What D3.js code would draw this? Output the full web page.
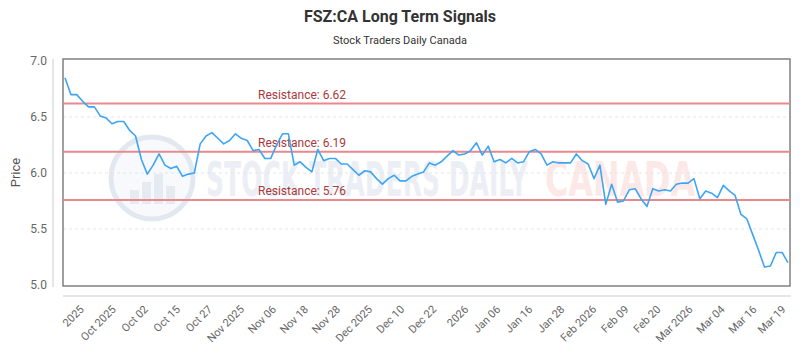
<!DOCTYPE html>
<html>
<head>
<meta charset="utf-8">
<script src="https://cdn.jsdelivr.net/npm/d3@7"></script>
<style>
  body { margin: 0; background: #fff; }
  svg { display: block; }
</style>
</head>
<body>
<svg id="chart" width="800" height="350"></svg>
<script>
// closing prices, one per trading day
const prices = [6.85, 6.70, 6.70, 6.64, 6.59, 6.59, 6.51, 6.49, 6.44, 6.46, 6.46, 6.38, 6.33, 6.12, 5.99, 6.07,
    6.17, 6.07, 6.04, 6.06, 5.97, 5.99, 6.00, 6.26, 6.33, 6.36, 6.31, 6.26, 6.29, 6.35, 6.31, 6.29,
    6.20, 6.21, 6.13, 6.13, 6.25, 6.35, 6.35, 6.07, 6.10, 6.05, 6.01, 6.21, 6.11, 6.13, 6.13, 6.08,
    6.08, 6.03, 5.98, 6.02, 6.01, 5.95, 5.90, 5.95, 5.98, 5.93, 5.93, 5.97, 5.99, 6.01, 6.09, 6.07,
    6.10, 6.15, 6.20, 6.16, 6.17, 6.20, 6.27, 6.16, 6.24, 6.10, 6.12, 6.09, 6.13, 6.09, 6.10, 6.19,
    6.21, 6.17, 6.07, 6.10, 6.09, 6.09, 6.09, 6.17, 6.11, 6.08, 5.95, 6.07, 5.72, 5.90, 5.74, 5.75,
    5.85, 5.86, 5.77, 5.70, 5.86, 5.84, 5.85, 5.84, 5.90, 5.91, 5.91, 5.95, 5.77, 5.84, 5.82, 5.78,
    5.89, 5.84, 5.80, 5.63, 5.59, 5.45, 5.31, 5.16, 5.17, 5.29, 5.29, 5.20];

const resistance = [6.62, 6.19, 5.76];

const tickLabels = ["2025", "Oct 2025", "Oct 02", "Oct 15", "Oct 27", "Nov 2025", "Nov 06", "Nov 18",
    "Nov 28", "Dec 2025", "Dec 10", "Dec 22", "2026", "Jan 06", "Jan 16", "Jan 28", "Feb 2026",
    "Feb 09", "Feb 20", "Mar 2026", "Mar 04", "Mar 16", "Mar 19"];

const yTicks = [5.0, 5.5, 6.0, 6.5, 7.0];

const svg = d3.select('#chart');
const font = "Roboto, 'Open Sans', sans-serif";

const box = { left: 63, top: 59, right: 790, bottom: 286 };

const x = d3.scaleLinear()
    .domain([0, prices.length - 1])
    .range([65, 788]);

const y = d3.scaleLinear()
    .domain([5, 7])
    .range([285, 61]);

// ticks sit every ~5.45 trading days, the last one on the final point
const tickAt = tickLabels.map((d, i) => i === tickLabels.length - 1 ? prices.length - 1 : 3.6 + 5.45 * i);

// title
svg.append('text')
    .attr('x', 400)
    .attr('y', 22)
    .attr('text-anchor', 'middle')
    .attr('font-family', font)
    .attr('font-size', 16)
    .attr('font-weight', 700)
    .attr('fill', '#333')
    .text('FSZ:CA Long Term Signals');

svg.append('text')
    .attr('x', 400)
    .attr('y', 44)
    .attr('text-anchor', 'middle')
    .attr('font-family', font)
    .attr('font-size', 11)
    .attr('fill', '#333')
    .text('Stock Traders Daily Canada');

// watermark
const wm = svg.append('g');
wm.append('circle')
    .attr('cx', 152).attr('cy', 178).attr('r', 41)
    .attr('fill', '#f7f9fc')
    .attr('stroke', '#e3e8f0')
    .attr('stroke-width', 5);
[[-22, 14], [-10, 22], [2, 30], [14, 18]].forEach(([dx, h]) => {
    wm.append('rect')
        .attr('x', 152 + dx).attr('y', 204 - h)
        .attr('width', 9).attr('height', h)
        .attr('fill', '#e6ebf2');
});
wm.append('text')
    .attr('x', 206).attr('y', 196)
    .attr('font-family', "'DejaVu Sans Condensed', 'DejaVu Sans', sans-serif")
    .attr('font-size', 48)
    .attr('font-weight', 700)
    .attr('textLength', 322)
    .attr('lengthAdjust', 'spacingAndGlyphs')
    .attr('fill', '#ebeff5')
    .text('STOCK TRADERS DAILY');
wm.append('text')
    .attr('x', 545).attr('y', 196)
    .attr('font-family', "'DejaVu Sans Condensed', 'DejaVu Sans', sans-serif")
    .attr('font-size', 48)
    .attr('font-weight', 700)
    .attr('textLength', 150)
    .attr('lengthAdjust', 'spacingAndGlyphs')
    .attr('fill', '#fde8e8')
    .text('CANADA');

// dashed grid
svg.append('g')
    .selectAll('line')
    .data(yTicks.slice(1, -1))
    .enter()
    .append('line')
    .attr('x1', box.left).attr('x2', box.right)
    .attr('y1', d => y(d)).attr('y2', d => y(d))
    .attr('stroke', '#e4e4e4')
    .attr('stroke-dasharray', '3,3');

// plot border
svg.append('rect')
    .attr('x', box.left).attr('y', box.top)
    .attr('width', box.right - box.left)
    .attr('height', box.bottom - box.top)
    .attr('fill', 'none')
    .attr('stroke', '#808080')
    .attr('stroke-width', 1.5);

// y axis
const yAxis = svg.append('g')
    .attr('transform', 'translate(53,0)')
    .call(d3.axisLeft(y).tickValues(yTicks).tickSize(0).tickPadding(6).tickFormat(d3.format('.1f')));
yAxis.select('.domain').attr('stroke', '#ccc').attr('d', `M0,${box.top}V${box.bottom + 1}`);
yAxis.selectAll('text')
    .attr('font-family', font)
    .attr('font-size', 12)
    .attr('fill', '#666');

svg.append('text')
    .attr('transform', `translate(20, ${(box.top + box.bottom) / 2}) rotate(-90)`)
    .attr('text-anchor', 'middle')
    .attr('font-family', font)
    .attr('font-size', 13)
    .attr('fill', '#555')
    .text('Price');

// x axis
const xAxis = svg.append('g')
    .attr('transform', 'translate(0,296)')
    .call(d3.axisBottom(x).tickValues(tickAt).tickSize(0).tickFormat((d, i) => tickLabels[i]));
xAxis.select('.domain').attr('stroke', '#ccc').attr('d', `M${box.left},0H${box.right + 1}`);
xAxis.selectAll('text')
    .attr('font-family', font)
    .attr('font-size', 11)
    .attr('fill', '#666')
    .attr('text-anchor', 'end')
    .attr('x', 0)
    .attr('y', 0)
    .attr('dy', 0)
    .attr('transform', 'translate(-2,14) rotate(-45)');

// resistance levels
const res = svg.append('g');
res.selectAll('line')
    .data(resistance)
    .enter()
    .append('line')
    .attr('x1', box.left).attr('x2', box.right)
    .attr('y1', d => y(d)).attr('y2', d => y(d))
    .attr('stroke', '#e8898d')
    .attr('stroke-width', 2);
res.selectAll('text')
    .data(resistance)
    .enter()
    .append('text')
    .attr('x', 258)
    .attr('y', d => y(d) - 5)
    .attr('font-family', font)
    .attr('font-size', 12)
    .attr('fill', '#a83a3a')
    .text(d => `Resistance: ${d.toFixed(2)}`);

// price line
const line = d3.line()
    .x((d, i) => x(i))
    .y(d => y(d));

svg.append('path')
    .datum(prices)
    .attr('fill', 'none')
    .attr('stroke', '#3da5f4')
    .attr('stroke-width', 1.6)
    .attr('stroke-linejoin', 'round')
    .attr('d', line);
</script>
</body>
</html>
